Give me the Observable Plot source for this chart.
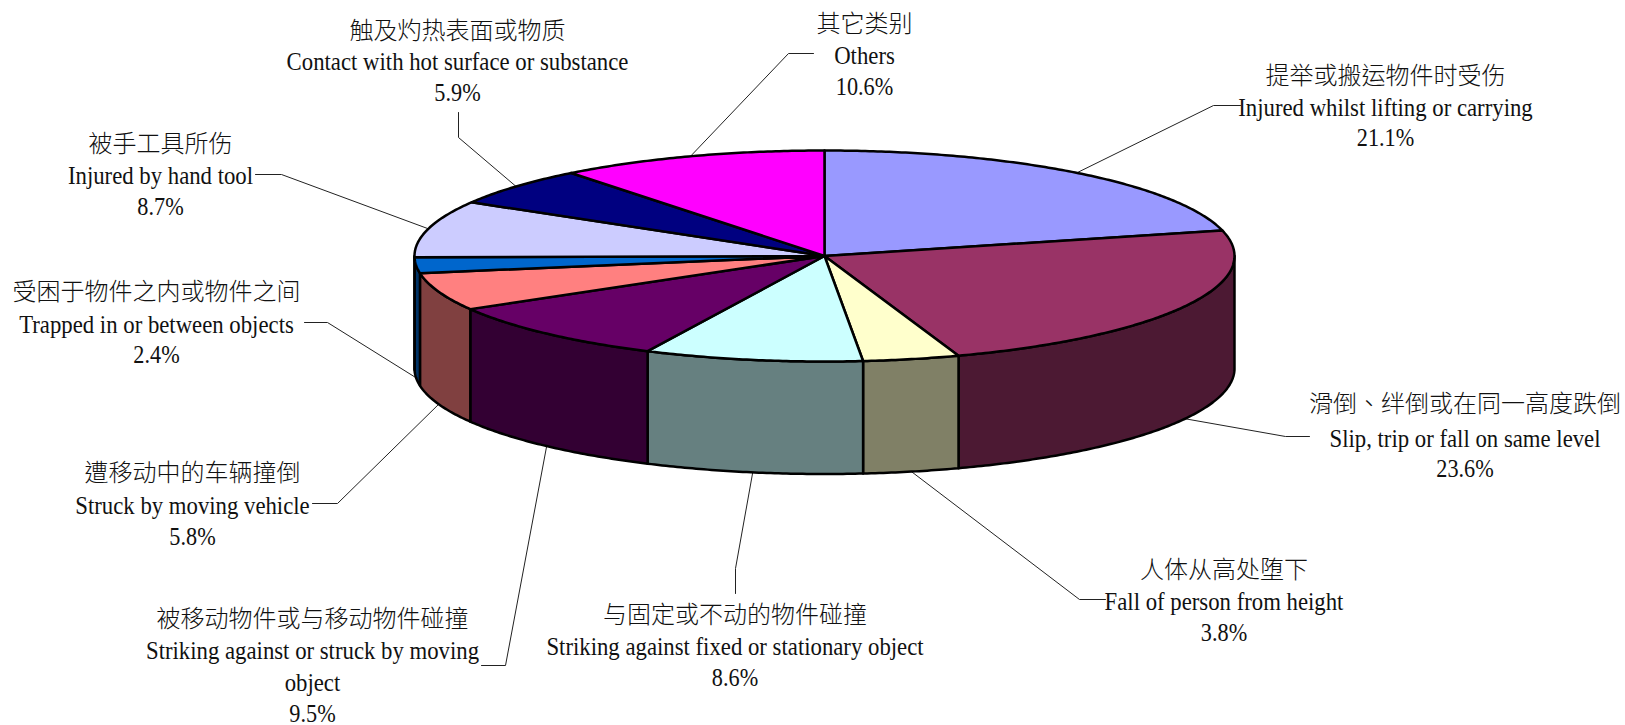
<!DOCTYPE html>
<html>
<head>
<meta charset="utf-8">
<script src="https://cdn.jsdelivr.net/npm/d3@7"></script>
<script src="https://cdn.jsdelivr.net/npm/@observablehq/plot@0.6"></script>
<style>
html,body{margin:0;padding:0;background:#fff;overflow:hidden}
svg{display:block}
</style>
</head>
<body>
<div id="chart"></div>
<script>
// ---- chart data ----
const namesZh = ["提举或搬运物件时受伤","滑倒、绊倒或在同一高度跌倒","人体从高处堕下","与固定或不动的物件碰撞","被移动物件或与移动物件碰撞","遭移动中的车辆撞倒","受困于物件之内或物件之间","被手工具所伤","触及灼热表面或物质","其它类别"];
const namesEn = [["Injured whilst lifting or carrying"],["Slip, trip or fall on same level"],["Fall of person from height"],["Striking against fixed or stationary object"],["Striking against or struck by moving","object"],["Struck by moving vehicle"],["Trapped in or between objects"],["Injured by hand tool"],["Contact with hot surface or substance"],["Others"]];
const shares = [21.1,23.6,3.8,8.6,9.5,5.8,2.4,8.7,5.9,10.6];
const topColors = ["#9999FF","#993366","#FFFFCC","#CCFFFF","#660066","#FF8080","#0066CC","#CCCCFF","#000080","#FF00FF"];
const sideColors = ["#4C4C80","#4C1933","#808066","#668080","#330033","#804040","#003366","#666680","#000040","#800080"];

// ---- layout of the pie and of the callouts (pixels) ----
const W = 1625, H = 725;
const cx = 824, cy = 255.5, rx = 410, ry = 105.5, depth = 112.5;
const labelX = [1385,1464.5,1223.5,734.5,312,192,156,160,457,864];
const labelY = [[76,108,138],[404,439,469],[570,602,633],[615,647,678],[619,651,683,714],[473,506,537],[292,325,355],[144,176,207],[31,62,93],[24,56,87]];
const elbow = [[1213,105],[1285,436],[1079,599],[735,568],[505,665],[337,503],[327,322],[281,174],[458,137],[788,53]];
const stub  = [[1240,105],[1309,436],[1105,599],[735,593],[481,665],[312,503],[304,322],[255,174],[458,112],[813,53]];

// ---- geometry derived from the shares ----
const total = d3.sum(shares);
let run = 0;
const slices = shares.map((v,i)=>{const a0=run/total*2*Math.PI; run+=v; return {i,a0,a1:run/total*2*Math.PI};});
const px = a => cx + rx*Math.sin(a);
const py = (a,d=0) => cy - ry*Math.cos(a) + d;
const arc = (a0,a1,d=0) => {
  const n = Math.max(2,Math.ceil((a1-a0)/0.01));
  return d3.range(n+1).map(k=>{const a=a0+(a1-a0)*k/n; return [px(a),py(a,d)];});
};
const topPts = [], sidePts = [];
for (const s of slices) {
  const ring = [[cx,cy],...arc(s.a0,s.a1),[cx,cy]];
  ring.forEach(p=>topPts.push({x:p[0],y:p[1],id:s.i,c:topColors[s.i]}));
  const lo=Math.max(s.a0,Math.PI/2), hi=Math.min(s.a1,3*Math.PI/2);
  if (hi>lo) {
    const front=arc(lo,hi), back=arc(lo,hi,depth).reverse();
    [...front,...back,front[0]].forEach(p=>sidePts.push({x:p[0],y:p[1],id:s.i,c:sideColors[s.i]}));
  }
}
const leaders = [];
for (const s of slices) {
  const m=(s.a0+s.a1)/2, lower=Math.cos(m)<0;
  [[px(m),py(m,lower?depth:0)],elbow[s.i],stub[s.i]].forEach(p=>leaders.push({x:p[0],y:p[1],id:s.i}));
}
const zhRows=[], enRows=[];
shares.forEach((v,i)=>{
  const ys=labelY[i];
  zhRows.push({x:labelX[i],y:ys[0],t:namesZh[i]});
  namesEn[i].forEach((t,j)=>enRows.push({x:labelX[i],y:ys[j+1],t}));
  enRows.push({x:labelX[i],y:ys[ys.length-1],t:v.toFixed(1)+"%"});
});

const chart = Plot.plot({
  width:W,height:H,margin:0,
  x:{domain:[0,W],range:[0,W],axis:null},
  y:{domain:[0,H],range:[0,H],axis:null},
  marks:[
    Plot.line(leaders,{x:"x",y:"y",z:"id",stroke:"#222",strokeWidth:1,curve:"linear"}),
    Plot.line(sidePts,{x:"x",y:"y",z:"id",fill:d=>d.c,stroke:"#000",strokeWidth:2.5,curve:"linear",strokeLinejoin:"round"}),
    Plot.line(topPts,{x:"x",y:"y",z:"id",fill:d=>d.c,stroke:"#000",strokeWidth:2.5,curve:"linear",strokeLinejoin:"round"}),
    Plot.text(zhRows,{x:"x",y:"y",text:"t",fontSize:24,fontWeight:300,fill:"#111",fontFamily:"'Noto Sans CJK TC','Noto Sans CJK SC',serif",className:"zh"}),
    Plot.text(enRows,{x:"x",y:"y",dy:-1,text:"t",fontSize:25,fill:"#111",fontFamily:"'Liberation Serif',serif",className:"en"})
  ]
});
document.getElementById("chart").append(chart);
// narrow the Latin glyphs to the condensed look of the reference
d3.select(chart).selectAll(".en text").each(function(){
  const len=this.getComputedTextLength();
  const k=this.textContent.endsWith("%")?0.89:0.91;
  this.setAttribute("textLength",len*k);
  this.setAttribute("lengthAdjust","spacingAndGlyphs");
});
</script>
</body>
</html>
